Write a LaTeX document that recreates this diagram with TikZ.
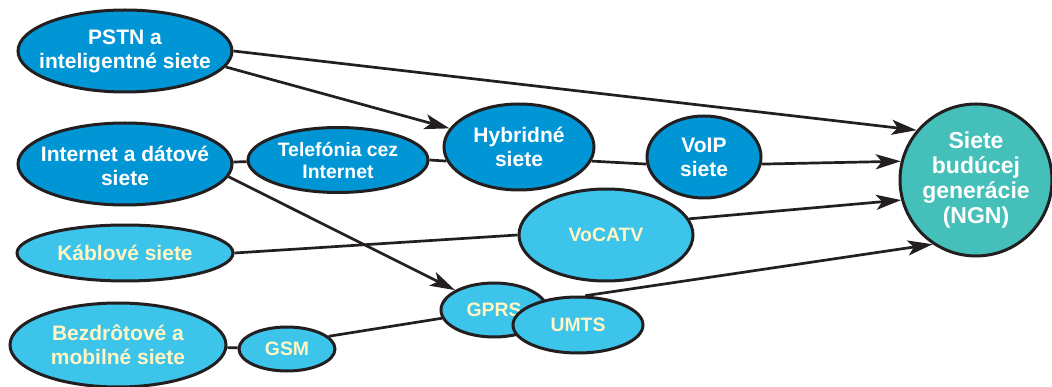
\documentclass[tikz,border=0pt]{standalone}
\usepackage{fontspec}
\setmainfont{Liberation Sans}
\usetikzlibrary{shapes.geometric,arrows.meta}
\definecolor{dblue}{HTML}{0096D6}
\definecolor{lblue}{HTML}{3CC4EA}
\definecolor{tealc}{HTML}{45BFB9}
\definecolor{cream}{HTML}{FFF6C4}
\definecolor{outl}{HTML}{231F20}
\begin{document}
\begin{tikzpicture}[x=1pt,y=-1pt,
  net/.style={ellipse, draw=outl, line width=3pt, inner sep=0pt},
  darknet/.style={net, fill=dblue},
  lightnet/.style={net, fill=lblue},
  txt/.style={align=center, font=\bfseries\fontsize{21}{24}\selectfont, inner sep=0pt},
  wtxt/.style={txt, text=white},
  ctxt/.style={txt, text=cream},
  smalltxt/.style={font=\bfseries\fontsize{19.4}{22}\selectfont},
  conn/.style={draw=outl, line width=2.7pt},
  arr/.style={conn, -{Stealth[length=25pt,width=15pt,inset=6pt]}}
]
\useasboundingbox (0,0) rectangle (1052,387);

% nodes
\node[darknet, minimum width=214pt, minimum height=82pt] (pstn) at (125,51) {};
\node[wtxt] (pstnt) at (pstn) {PSTN a\\inteligentné siete};

\node[darknet, minimum width=214pt, minimum height=82pt] (inet) at (125,164) {};
\node[wtxt, yshift=-2pt] (inett) at (inet) {Internet a dátové\\siete};

\node[darknet, minimum width=180pt, minimum height=65pt] (tel) at (338,160) {};
\node[wtxt, smalltxt] (telt) at (tel) {Telefónia cez\\Internet};

\node[darknet, minimum width=150pt, minimum height=86pt] (hyb) at (519,147) {};
\node[wtxt] (hybt) at (hyb) {Hybridné\\siete};

\node[darknet, minimum width=114pt, minimum height=82pt] (voip) at (704,157) {};
\node[wtxt] (voipt) at (voip) {VoIP\\siete};

\node[net, circle, fill=tealc, minimum size=152pt] (ngn) at (976,180) {};
\node[wtxt, font=\bfseries\fontsize{23}{25}\selectfont] (ngnt) at (ngn) {Siete\\budúcej\\generácie\\(NGN)};

\node[lightnet, minimum width=216pt, minimum height=56pt] (kab) at (125,253) {};
\node[ctxt] (kabt) at (kab) {Káblové siete};

\node[lightnet, minimum width=174pt, minimum height=92pt] (vocatv) at (606,235) {};
\node[ctxt, smalltxt] (vocatvt) at (vocatv) {VoCATV};

\node[lightnet, minimum width=106pt, minimum height=54pt] (gprs) at (494,310) {};
\node[ctxt, smalltxt] (gprst) at (gprs) {GPRS};

\node[lightnet, minimum width=130pt, minimum height=56pt] (umts) at (578,325) {};
\node[ctxt, smalltxt] (umtst) at (umts) {UMTS};

\node[lightnet, minimum width=216pt, minimum height=84pt] (bez) at (118,345) {};
\node[ctxt] (bezt) at (bez) {Bezdrôtové a\\mobilné siete};

\node[lightnet, minimum width=96pt, minimum height=44pt] (gsm) at (287,349) {};
\node[ctxt, smalltxt] (gsmt) at (gsm) {GSM};

% connectors
\draw[arr] (pstn.east) -- (ngn.140);
\draw[arr] (pstn.-9) -- (hyb.165);
\draw[conn] (inet) -- (tel);
\draw[conn] (tel.east) -- (hyb.191);
\draw[conn] (hyb.-11) -- (voip.187);
\draw[arr] (voip.-7) -- (ngn.166);
\draw[arr] (inet.-7) -- (gprs.153);
\draw[conn] (kab.east) -- (vocatv.west);
\draw[arr] (vocatv.11) -- (ngn.195);
\draw[arr] (umts.76) -- (ngn.236);
\draw[conn] (bez) -- (gsm);
\draw[conn] (gsm.17) -- (gprs.189);
\end{tikzpicture}
\end{document}
